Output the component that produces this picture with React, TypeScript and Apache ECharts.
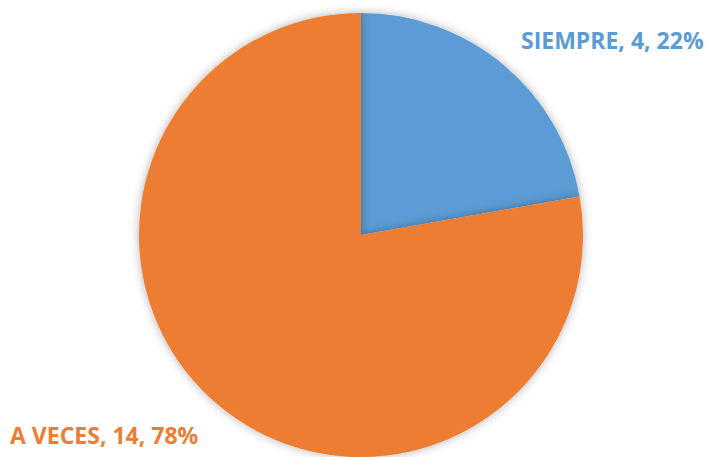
import React, { useEffect, useRef } from "react";
import * as echarts from "echarts";

const categories = ["SIEMPRE", "A VECES"];
const values = [4, 14];
const percents = ["22%", "78%"];
const colors = ["#5B9BD5", "#ED7D31"];

export default function App() {
  const ref = useRef<HTMLDivElement>(null);
  useEffect(() => {
    const chart = echarts.init(ref.current!, null, { renderer: "svg" });
    const labelPos = [
      { x: 521, y: 40, align: "left" },
      { x: 10, y: 435, align: "left" },
    ];
    chart.setOption({
      animation: false,
      backgroundColor: "#ffffff",
      series: [
        {
          type: "pie",
          center: [361, 235],
          radius: 222,
          startAngle: 90,
          clockwise: true,
          data: categories.map((c, i) => ({
            name: c,
            value: values[i],
            itemStyle: { color: colors[i] },
            label: { color: colors[i] },
          })),
          itemStyle: {
            shadowBlur: 10,
            shadowColor: "rgba(0,0,0,0.3)",
            borderWidth: 0,
          },
          label: {
            show: true,
            position: "outside",
            overflow: "none",
            alignTo: "none",
            fontFamily: "'Open Sans', Lato, sans-serif",
            fontWeight: "bold",
            fontSize: 23,
            formatter: (p: any) => `${p.name}, ${p.value}, ${percents[p.dataIndex]}`,
          },
          labelLine: { show: false },
          labelLayout: (params: any) => {
            const lp = labelPos[params.dataIndex];
            return { x: lp.x, y: lp.y, align: lp.align, verticalAlign: "middle" };
          },
        },
      ],
    });
    return () => chart.dispose();
  }, []);
  return (
    <div
      ref={ref}
      style={{ position: "fixed", left: 0, top: 0, width: 709, height: 457 }}
    />
  );
}
